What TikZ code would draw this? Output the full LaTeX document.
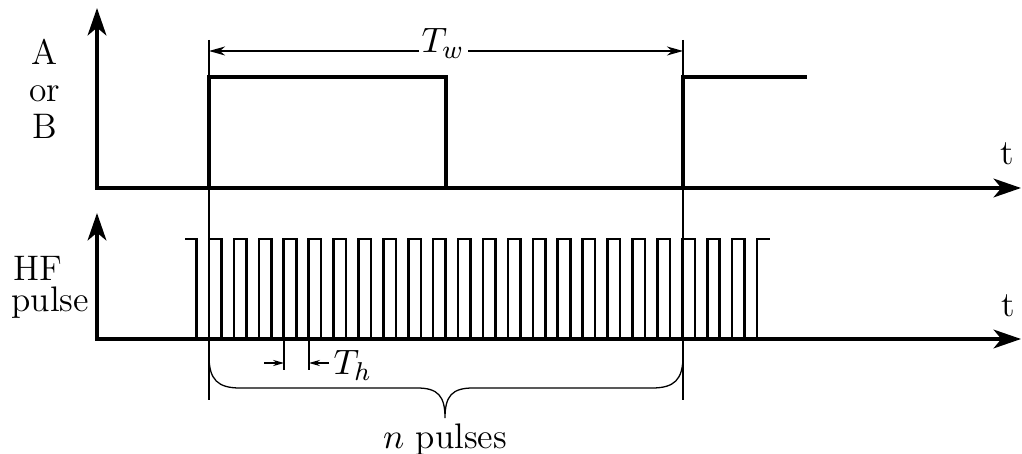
\documentclass[tikz,border=0pt]{standalone}
\usetikzlibrary{arrows.meta}
\begin{document}
\begin{tikzpicture}[x=0.31pt,y=-0.31pt,
  every node/.style={font=\fontsize{11}{13.5}\selectfont},
  axis/.style={line width=1.15pt, {Stealth[length=8.5pt,width=5.8pt,inset=2.4pt]}-{Stealth[length=8.5pt,width=5.8pt,inset=2.4pt]}},
  sig/.style={line width=1.15pt},
  hf/.style={line width=0.8pt},
  guide/.style={line width=0.4pt},
  dimW/.style={line width=0.4pt, -{Stealth[length=5pt,width=2.8pt,inset=1.6pt]}},
  dimH/.style={line width=0.4pt, -{Stealth[length=3.4pt,width=1.9pt,inset=1.1pt]}},
  lbl/.style={anchor=base, inner sep=0pt}]
\useasboundingbox (0,0) rectangle (1022,454);

% axes
\coordinate (ytopA) at (97,8);
\coordinate (oA) at (97,188);
\coordinate (xendA) at (1021,188);
\coordinate (ytopB) at (97,213);
\coordinate (oB) at (97,339);
\coordinate (xendB) at (1021,339);
\draw[axis] (ytopA) -- (oA) -- (xendA);
\draw[axis] (ytopB) -- (oB) -- (xendB);

% top signal
\draw[sig] (209,188) -- (209,77) -- (446,77) -- (446,188);
\draw[sig] (683,188) -- (683,77) -- (807,77);

% HF pulse train
\draw[hf] (185,239) -- (196.5,239) -- (196.5,339);
\foreach \k in {0,...,21} {
  \pgfmathsetmacro\xa{209+\k*24.91}
  \pgfmathsetmacro\xb{\xa+12.5}
  \draw[hf] (\xa,339) -- (\xa,239) -- (\xb,239) -- (\xb,339);
}
\draw[hf] (757,339) -- (757,239) -- (770,239);

% guide lines
\coordinate (gL1) at (209,40);
\coordinate (gL2) at (209,400);
\coordinate (gR1) at (683,40);
\coordinate (gR2) at (683,400);
\draw[guide] (gL1) -- (gL2);
\draw[guide] (gR1) -- (gR2);

% T_w
\node[lbl] (tw) at (443,53) {$T_w$};
\coordinate (twL) at (419,51);
\coordinate (twR) at (468,51);
\coordinate (twLend) at (209,51);
\coordinate (twRend) at (683,51);
\draw[dimW] (twL) -- (twLend);
\draw[dimW] (twR) -- (twRend);

% T_h
\coordinate (h1a) at (284,339);
\coordinate (h1b) at (284,370);
\coordinate (h2a) at (309,339);
\coordinate (h2b) at (309,370);
\draw[guide] (h1a) -- (h1b);
\draw[guide] (h2a) -- (h2b);
\coordinate (thA) at (264,363);
\coordinate (thAend) at (284,363);
\coordinate (thB) at (329,363);
\coordinate (thBend) at (309,363);
\draw[dimH] (thA) -- (thAend);
\draw[dimH] (thB) -- (thBend);
\node[anchor=base west, inner sep=0pt] (th) at (333,375) {$T_h$};

% brace
\draw[guide] (209,356) .. controls (209,380) and (218,388) .. (240,388)
  -- (417,388) .. controls (438,388) and (445,396) .. (445,418)
  .. controls (445,396) and (452,388) .. (473,388)
  -- (652,388) .. controls (674,388) and (683,380) .. (683,356);
\node[lbl] (np) at (445,448) {$n$ pulses};

% labels
\node[lbl] (la) at (45,65) {A};
\node[lbl] (lor) at (45,102) {or};
\node[lbl] (lb) at (45,139) {B};
\node[anchor=base west, inner sep=0pt] (lhf) at (13,281) {HF};
\node[anchor=base west, inner sep=0pt] (lpulse) at (11,312) {pulse};
\node[lbl] (t1) at (1007,165) {t};
\node[lbl] (t2) at (1008,317) {t};
\end{tikzpicture}
\end{document}
